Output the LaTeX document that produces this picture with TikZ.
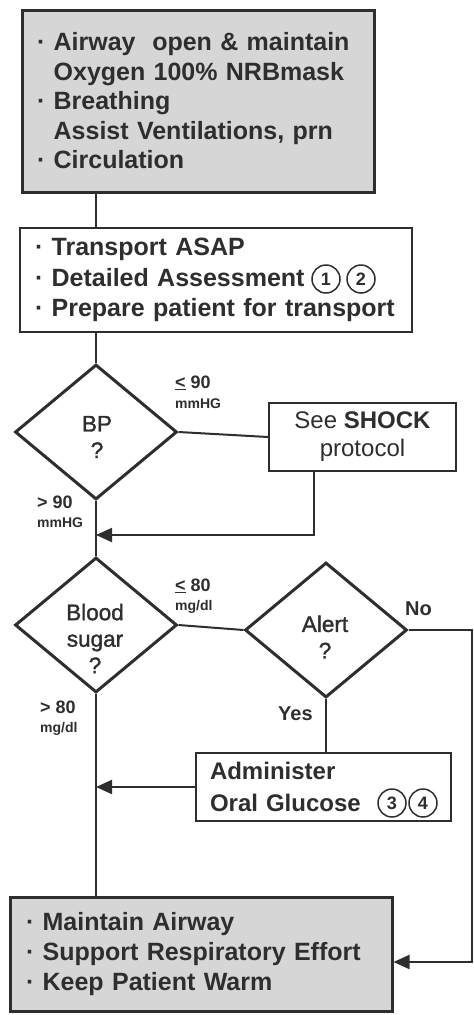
\documentclass[tikz,border=0pt]{standalone}
\usepackage{fontspec}
\setmainfont{Liberation Sans}
\newfontfamily\semibold[FakeBold=1.4]{Liberation Sans}
\usetikzlibrary{shapes.geometric,arrows.meta}
\definecolor{ink}{gray}{0.18}
\definecolor{shade}{gray}{0.84}
\newcommand{\bul}{·\ }
\begin{document}
\begin{tikzpicture}[x=1pt,y=-1pt,
  box/.style={draw=ink, text=ink, align=left, inner ysep=0pt,
    font=\fontsize{25}{29.5}\selectfont\bfseries},
  plainbox/.style={draw=ink, text=ink, align=center, inner sep=0pt,
    font=\fontsize{24}{28}\selectfont},
  decision/.style={diamond, draw=ink, line width=3pt, minimum width=162pt,
    minimum height=135pt, inner sep=0pt},
  dtext/.style={text=ink, align=center, inner sep=0pt,
    font=\fontsize{22.5}{26.5}\semibold},
  val/.style={text=ink, anchor=base west, inner sep=0pt,
    font=\fontsize{18}{20}\selectfont\bfseries},
  unit/.style={text=ink, anchor=base west, inner sep=0pt,
    font=\fontsize{14}{16}\selectfont\bfseries},
  answer/.style={text=ink, anchor=base west, inner sep=0pt,
    font=\fontsize{20}{22}\selectfont\bfseries},
  note/.style={circle, draw=ink, text=ink, line width=1.5pt, minimum size=28pt,
    inner sep=0pt, font=\fontsize{18}{18}\selectfont\bfseries},
  link/.style={draw=ink, line width=2pt},
  arrow/.style={link, -{Triangle[length=16pt,width=14pt]}}
]
\useasboundingbox (0,0) rectangle (474,1015);

% initial care
\node[box, fill=shade, line width=3pt, inner xsep=15pt, text width=322pt,
  minimum height=182pt] (abc) at (198,101)
  {\bul Airway~ open \& maintain\\
   \hphantom{\bul}Oxygen 100\% NRBmask\\
   \bul Breathing\\
   \hphantom{\bul}Assist Ventilations, prn\\
   \bul Circulation};

% transport
\node[box, line width=2.5pt, inner xsep=15pt, text width=362pt,
  minimum height=104pt, font=\fontsize{25}{30.5}\selectfont\bfseries]
  (trans) at (216,280)
  {\bul Transport ASAP\\
   \bul Detailed Assessment\\
   \bul Prepare patient for transport};
\node[note] (n1) at (326,279) {1};
\node[note] (n2) at (361,279) {2};

% blood pressure check
\node[decision] (bp) at (96,432) {};
\node[dtext] (bpq) at (97,437) {BP\\?};
\node[plainbox, line width=2pt, minimum width=187pt, minimum height=68pt]
  (shock) at (362.5,437) {See \textbf{SHOCK}\\protocol};
\node[val] (le90) at (175,388) {\underline{<} 90};
\node[unit] (le90u) at (175,408) {mmHG};
\node[val] (gt90) at (37,508) {> 90};
\node[unit] (gt90u) at (37,527) {mmHG};

% blood sugar check
\node[decision] (bs) at (96,625) {};
\node[dtext] (bsq) at (95,638.5) {Blood\\sugar\\?};
\node[decision] (alert) at (326,630) {};
\node[dtext] (alertq) at (325,637) {Alert\\?};
\node[val] (le80) at (175,591) {\underline{<} 80};
\node[unit] (le80u) at (175,610) {mg/dl};
\node[val] (gt80) at (40,713) {> 80};
\node[unit] (gt80u) at (40,732) {mg/dl};
\node[answer] (no) at (405,615) {No};
\node[answer] (yes) at (278,720) {Yes};

% glucose
\node[box, line width=2pt, inner xsep=14pt, text width=227pt,
  minimum height=68pt, font=\fontsize{24}{32}\selectfont\bfseries]
  (gluc) at (323.5,787) {Administer\\Oral Glucose};
\node[note] (n3) at (392,803) {3};
\node[note] (n4) at (423,803) {4};

% ongoing care
\node[box, fill=shade, line width=3pt, inner xsep=16pt, text width=350pt,
  minimum height=114pt, font=\fontsize{25}{30}\selectfont\bfseries]
  (care) at (201,954.5)
  {\bul Maintain Airway\\
   \bul Support Respiratory Effort\\
   \bul Keep Patient Warm};

% connectors
\coordinate (shockret) at (314,535);
\coordinate (edge) at (472,962);
\draw[link] (abc.south -| bp.north) -- (trans.north -| bp.north);
\draw[link] (trans.south -| bp.north) -- (bp.north);
\draw[link] (bp.east) -- (shock.west);
\draw[arrow] (shock.south -| shockret) -- (shockret) -- (shockret -| bp.south);
\draw[link] (bp.south) -- (bs.north);
\draw[link] (bs.east) -- (alert.west);
\draw[link] (alert.south) -- (alert.south |- gluc.north);
\draw[arrow] (gluc.west) -- (gluc.west -| bs.south);
\draw[link] (bs.south) -- (bs.south |- care.north);
\draw[arrow] (alert.east) -- (alert.east -| edge) -- (edge) -- (edge -| care.east);
\end{tikzpicture}
\end{document}
